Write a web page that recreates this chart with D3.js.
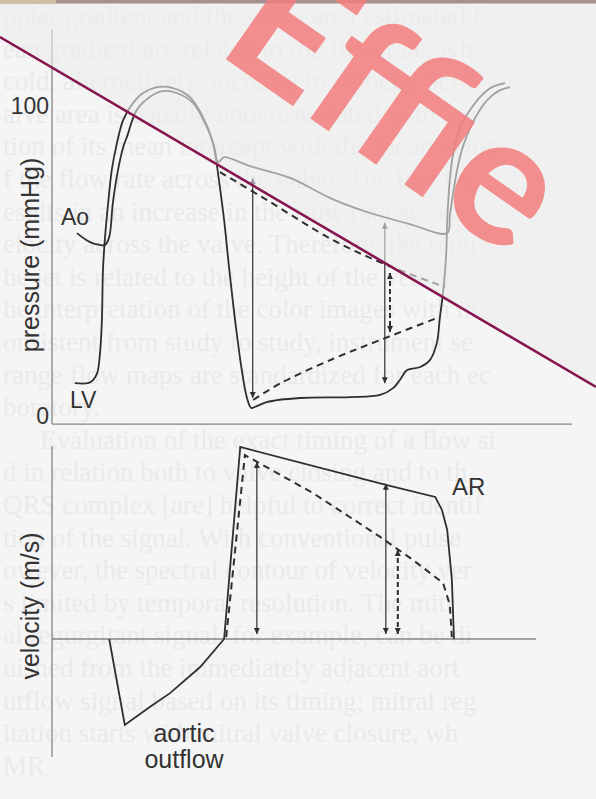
<!DOCTYPE html>
<html>
<head>
<meta charset="utf-8">
<script src="https://cdn.jsdelivr.net/npm/d3@7"></script>
<style>
html, body { margin: 0; padding: 0; background: #f5f5f5; }
svg { display: block; }
</style>
</head>
<body>
<svg id="chart" width="596" height="799"></svg>
<script>
// Pressure and Doppler velocity in aortic regurgitation.
// time in ms, pressure in mmHg, velocity in m/s.

////////////////////////////////////////////////////////////////////////
// data

let lvPressure = [[44,10.6],[69,10.6],[79,11.6],[87,13.9],[92,19.7],[96,31],[98,47.1],[102,57.7],
  [108,68.7],[115,79.4],[125,88.1],[137,95.5],[156,101],[175,104.2],[202,106.1],[233,105.8],
  [265,102.9],[290,96.5],[308,89],[315,83.2],[321,76.1],[331,63.2],[340,48.7],[352,31],
  [365,14.8],[375,5.8],[383,2.6],[390,2.9],[413,4.5],[477,5.8],[573,6.1],[631,6.8],[656,9],
  [669,11.6],[683,14.8],[708,15.8],[727,18.1],[740,23.5],[746,31.9],[752,39.7],[758,51.9],
  [760,63.2],[765,76.1],[771,84.2],[785,93.2],[804,98.7],[823,102.9],[846,106.1],[871,107.4]];

let aoPressure = [[48,59],[73,56.1],[92,55.2],[102,55.2],[110,57.7],[117,68.7],[127,79.4],
  [137,86.8],[144,90],[163,98.7],[188,102.9],[212,104.8],[240,104.2],[271,101],[298,93.2],
  [312,86.8],[319,81.9],[325,82.6],[331,83.5],[381,80.6],[458,76.8],[535,70.3],[606,65.8],
  [688,61.9],[760,59],[765,64.8],[771,71.3],[779,79.4],[790,86.8],[804,92.9],[819,97.7],
  [837,101.9],[858,104.8],[881,106.1]];

// dashed traces: more severe regurgitation
let aoPressureSevere = [[323,78.7],[413,69.7],[540,56.8],[644,48.7],[756,41.6]];
let lvPressureSevere = [[387,5.2],[440,10.6],[540,18.4],[631,24.5],[740,31.6]];

let pressureArrows = [
  {t: 386, top: 76.8, bottom: 5.8, dashed: false},
  {t: 640, top: 62.3, bottom: 10.6, dashed: false},
  {t: 650, top: 46.1, bottom: 27.1, dashed: true}
];

let aorticOutflow = [[110,0],[140,-2.24],[188,-1.77],[227,-1.41],[285,-0.73],[331,0]];
let arVelocity = [[331,0],[362,5.0],[644,4.01],[737,3.7],[750,3.36],[760,2.84],[769,1.54],[773,0]];
let arVelocitySevere = [[335,0.05],[371,4.79],[502,3.8],[631,2.66],[694,2.06],[752,1.46],[765,0.89],[769,0.05]];

let velocityArrows = [
  {t: 394, top: 4.61, bottom: 0.13, dashed: false},
  {t: 642, top: 4.04, bottom: 0.13, dashed: false},
  {t: 665, top: 2.32, bottom: 0.13, dashed: true}
];

let pressureTicks = [0, 100];

// the textbook page showing through behind the figure
let pageLines = [
  "ppler gradient and the valve area estimated f",
  "ean gradient are related to the flow rate, wh",
  "cold, alternatively, increase in velocity acro",
  "alve area is usually underestimated with low",
  "tion of its mean intercept with the mean veloc",
  "f the flow rate across the valve. The low flo",
  "esults in an increase in the flow rate across",
  "elocity across the valve. Therefore, the regu",
  "he jet is related to the height of the veloci",
  "he interpretation of the color images with th",
  "onsistent from study to study, instrument se",
  "range flow maps are standardized for each ec",
  "boratory.",
  "Evaluation of the exact timing of a flow si",
  "d in relation both to valve closing and to th",
  "QRS complex [are] helpful to correct identif",
  "tion of the signal. With conventional pulse",
  "owever, the spectral contour of velocity ver",
  "s limited by temporal resolution. The mitr",
  "al regurgitant signal, for example, can be di",
  "uished from the immediately adjacent aort",
  "utflow signal based on its timing; mitral reg",
  "itation starts with mitral valve closure, wh",
  "MR"
];

////////////////////////////////////////////////////////////////////////
// scales

let svg = d3.select("#chart");
let ink = "#2f2f2f";
let axisInk = "#858585";
let font = "'Liberation Sans', Arial, Helvetica, sans-serif";

let x = d3.scaleLinear().domain([0, 1000]).range([52, 572]);
let yP = d3.scaleLinear().domain([0, 100]).range([416, 106]);
let yV = d3.scaleLinear().domain([0, 5]).range([639, 447]);

// arrow heads
let defs = svg.append("defs");
defs.append("marker")
  .attr("id", "head")
  .attr("viewBox", "0 0 10 10")
  .attr("refX", 10).attr("refY", 5)
  .attr("markerWidth", 7).attr("markerHeight", 6)
  .attr("markerUnits", "userSpaceOnUse")
  .attr("orient", "auto-start-reverse")
  .append("path")
  .attr("d", "M0,0 L10,5 L0,10 z")
  .attr("fill", ink);

////////////////////////////////////////////////////////////////////////
// page text

svg.append("g")
  .selectAll("text")
  .data(pageLines)
  .enter()
  .append("text")
  .attr("x", function(d, i) { return i == 13 ? 40 : 3; })
  .attr("y", function(d, i) { return 25 + i * 32.6; })
  .attr("font-family", "'Liberation Serif', 'DejaVu Serif', serif")
  .attr("font-size", 27)
  .attr("fill", "#eaeaea")
  .text(function(d) { return d; })
  .each(function(d, i) {
    // squeeze a line that would run off the right edge
    let room = 592 - (i == 13 ? 40 : 3);
    if (this.getComputedTextLength() > room) {
      d3.select(this).attr("textLength", room).attr("lengthAdjust", "spacingAndGlyphs");
    }
  });

////////////////////////////////////////////////////////////////////////
// pressure panel

let fig = svg.append("g");

fig.append("line")
  .attr("x1", x(0)).attr("x2", x(0))
  .attr("y1", yP(124.8)).attr("y2", yP(-2.6))
  .attr("stroke", axisInk).attr("stroke-width", 1.3);
fig.append("line")
  .attr("x1", x(0)).attr("x2", x(1000))
  .attr("y1", yP(-2.6)).attr("y2", yP(-2.6))
  .attr("stroke", axisInk).attr("stroke-width", 1.3);

let pAxis = fig.append("g")
  .attr("transform", "translate(" + x(0) + ",0)")
  .call(d3.axisLeft(yP).tickValues(pressureTicks).tickSize(0).tickPadding(3));
pAxis.select(".domain").remove();
pAxis.selectAll("text")
  .attr("font-family", font)
  .attr("font-size", 23)
  .attr("fill", "#333");

let smooth = d3.line()
  .x(function(d) { return x(d[0]); })
  .y(function(d) { return yP(d[1]); })
  .curve(d3.curveCatmullRom.alpha(0.5));

fig.append("path").attr("d", smooth(lvPressure))
  .attr("fill", "none").attr("stroke", ink).attr("stroke-width", 1.8);
fig.append("path").attr("d", smooth(aoPressure))
  .attr("fill", "none").attr("stroke", ink).attr("stroke-width", 1.8);
fig.append("path").attr("d", smooth(aoPressureSevere))
  .attr("fill", "none").attr("stroke", ink).attr("stroke-width", 2)
  .attr("stroke-dasharray", "7,5");
fig.append("path").attr("d", smooth(lvPressureSevere))
  .attr("fill", "none").attr("stroke", ink).attr("stroke-width", 2)
  .attr("stroke-dasharray", "7,5");

function drawArrows(data, yScale) {
  fig.append("g")
    .selectAll("line")
    .data(data)
    .enter()
    .append("line")
    .attr("x1", function(d) { return x(d.t); })
    .attr("x2", function(d) { return x(d.t); })
    .attr("y1", function(d) { return yScale(d.top); })
    .attr("y2", function(d) { return yScale(d.bottom); })
    .attr("stroke", ink)
    .attr("stroke-width", function(d) { return d.dashed ? 2 : 1.2; })
    .attr("stroke-dasharray", function(d) { return d.dashed ? "5,3" : null; })
    .attr("marker-start", "url(#head)")
    .attr("marker-end", "url(#head)");
}
drawArrows(pressureArrows, yP);

function label(txt, px, py, size, anchor) {
  fig.append("text")
    .attr("x", px).attr("y", py)
    .attr("font-family", font)
    .attr("font-size", size)
    .attr("fill", "#333")
    .attr("text-anchor", anchor || "start")
    .text(txt);
}
label("Ao", 61, 225, 23);
label("LV", 70, 408, 23);

fig.append("text")
  .attr("transform", "translate(39,255) rotate(-90)")
  .attr("text-anchor", "middle")
  .attr("font-family", font).attr("font-size", 25).attr("fill", "#333")
  .text("pressure (mmHg)");

////////////////////////////////////////////////////////////////////////
// velocity panel

fig.append("line")
  .attr("x1", x(0)).attr("x2", x(0))
  .attr("y1", yV(5.03)).attr("y2", yV(-3.07))
  .attr("stroke", axisInk).attr("stroke-width", 1.3);
fig.append("line")
  .attr("x1", x(0)).attr("x2", x(931))
  .attr("y1", yV(0)).attr("y2", yV(0))
  .attr("stroke", axisInk).attr("stroke-width", 1.3);

let straight = d3.line()
  .x(function(d) { return x(d[0]); })
  .y(function(d) { return yV(d[1]); });

fig.append("path").attr("d", straight(aorticOutflow))
  .attr("fill", "none").attr("stroke", ink).attr("stroke-width", 1.8);
fig.append("path").attr("d", straight(arVelocity))
  .attr("fill", "none").attr("stroke", ink).attr("stroke-width", 1.8);
fig.append("path").attr("d", straight(arVelocitySevere))
  .attr("fill", "none").attr("stroke", ink).attr("stroke-width", 2)
  .attr("stroke-dasharray", "7,5");

drawArrows(velocityArrows, yV);

label("AR", 452, 495, 24);
label("aortic", 184, 742, 25, "middle");
label("outflow", 184, 768, 25, "middle");

fig.append("text")
  .attr("transform", "translate(39,606) rotate(-90)")
  .attr("text-anchor", "middle")
  .attr("font-family", font).attr("font-size", 25).attr("fill", "#333")
  .text("velocity (m/s)");

////////////////////////////////////////////////////////////////////////
// page overlay, pen line, watermark

// the sheet above the diagonal fades what is under it
svg.append("polygon")
  .attr("points", "0,0 596,0 596,387 0,37")
  .attr("fill", "#ececec")
  .attr("opacity", 0.6);

svg.append("line")
  .attr("x1", 0).attr("y1", 37)
  .attr("x2", 596).attr("y2", 387)
  .attr("stroke", "#861650")
  .attr("stroke-width", 2.6);

svg.append("rect").attr("x", 0).attr("y", 0).attr("width", 596).attr("height", 3.5).attr("fill", "#a58f8f");
svg.append("rect").attr("x", 0).attr("y", 0).attr("width", 56).attr("height", 3.5).attr("fill", "#d3bea4");

svg.append("text")
  .attr("transform", "translate(214,51) rotate(35)")
  .attr("font-family", "Lato, 'Open Sans', sans-serif")
  .attr("font-weight", "bold")
  .attr("font-size", 180)
  .attr("fill", "#f47d7d")
  .attr("opacity", 0.85)
  .text("Effie");
</script>
</body>
</html>
